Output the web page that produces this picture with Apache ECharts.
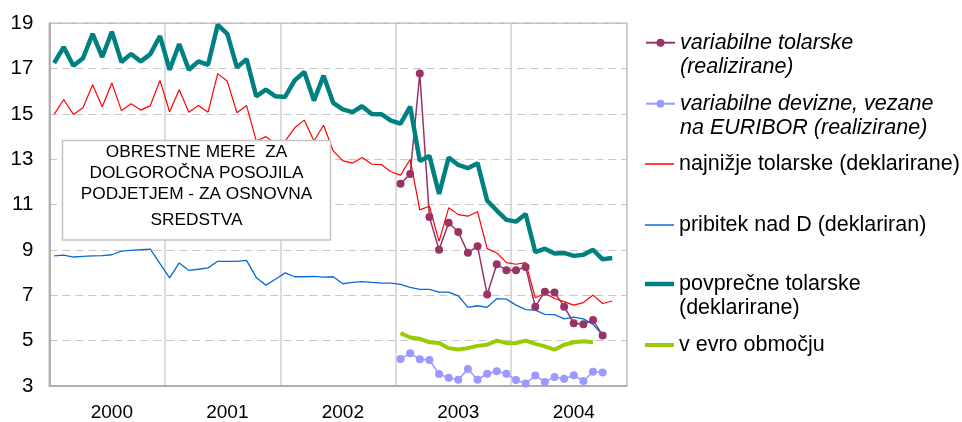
<!DOCTYPE html>
<html>
<head>
<meta charset="utf-8">
<script src="https://cdn.jsdelivr.net/npm/echarts@6/dist/echarts.min.js"></script>
<style>
html,body{margin:0;padding:0;background:#fff;}
#c{width:962px;height:422px;}
</style>
</head>
<body>
<div id="c"></div>
<script>
// ---- data ----
var years = ['2000', '2001', '2002', '2003', '2004'];
var months = ['01','02','03','04','05','06','07','08','09','10','11','12'];

var seriesNames = [
  'variabilne tolarske\n(realizirane)',
  'variabilne devizne, vezane\nna EURIBOR (realizirane)',
  'najnižje tolarske (deklarirane)',
  'pribitek nad D (deklariran)',
  'povprečne tolarske\n(deklarirane)',
  'v evro območju'
];

// variabilne tolarske (realizirane), from Jan 2003
var varTolar = [11.92,12.35,16.78,10.45,9.01,10.2,9.79,8.88,9.16,7.04,8.37,8.11,
                8.11,8.25,6.5,7.16,7.13,6.5,5.77,5.72,5.91,5.23];
// variabilne devizne, vezane na EURIBOR (realizirane), from Jan 2003
var varDev = [4.19,4.44,4.18,4.15,3.53,3.36,3.28,3.75,3.28,3.54,3.65,3.54,
              3.27,3.11,3.46,3.18,3.4,3.32,3.47,3.22,3.63,3.6];
// najnižje tolarske (deklarirane), from Jan 2000
var najnizje = [14.98,15.64,14.98,15.27,16.29,15.32,16.37,15.15,15.45,15.17,15.37,16.48,
                15.1,16.07,15.08,15.37,15.08,16.78,16.44,15.05,15.37,13.81,14.0,13.7,
                13.8,14.39,14.73,13.81,14.5,13.37,12.93,12.83,13.08,12.79,12.77,12.45,
                12.3,13.0,10.77,10.93,9.38,10.86,10.56,10.49,10.69,9.06,8.87,8.44,
                8.37,8.44,6.89,7.08,6.86,6.72,6.57,6.68,7.01,6.64,6.75];
// pribitek nad D (deklariran), from Jan 2000
var pribitek = [8.74,8.77,8.69,8.72,8.74,8.75,8.79,8.95,8.98,9.01,9.04,8.4,
                7.77,8.43,8.1,8.15,8.21,8.5,8.5,8.5,8.54,7.79,7.45,7.71,
                7.99,7.82,7.82,7.84,7.8,7.82,7.51,7.57,7.6,7.57,7.54,7.54,
                7.48,7.35,7.26,7.26,7.14,7.14,6.98,6.47,6.54,6.47,6.85,6.83,
                6.57,6.37,6.35,6.16,6.15,5.96,6.04,5.96,5.72,5.25];
// povprečne tolarske (deklarirane), from Jan 2000
var povprecne = [17.25,17.95,17.13,17.46,18.53,17.51,18.63,17.29,17.65,17.32,17.64,18.44,
                 16.95,18.09,16.95,17.32,17.17,18.93,18.53,17.05,17.42,15.78,16.07,15.78,
                 15.75,16.48,16.85,15.59,16.69,15.49,15.2,15.08,15.34,15.0,14.99,14.71,
                 14.57,15.32,12.93,13.15,11.47,13.08,12.75,12.61,12.83,11.18,10.74,10.33,
                 10.25,10.59,8.91,9.06,8.84,8.87,8.74,8.79,9.01,8.59,8.65];
// v evro območju, from Jan 2003
var evro = [5.33,5.14,5.08,4.93,4.9,4.67,4.61,4.67,4.77,4.82,5.0,4.89,
            4.9,5.0,4.86,4.75,4.6,4.82,4.93,4.97,4.93];

var yTicks = {min: 3, max: 19, step: 2};

// ---- build ----
var categories = [];
years.forEach(function (y) { months.forEach(function (m) { categories.push(m + '/' + y); }); });
var startIdx2003 = years.indexOf('2003') * 12;
function fromIndex(arr, start) {
  var out = [];
  for (var i = 0; i < categories.length; i++) {
    var k = i - start;
    out.push(k >= 0 && k < arr.length ? arr[k] : null);
  }
  return out;
}

var FONT = 'Liberation Sans, Arial, sans-serif';
var chart = echarts.init(document.getElementById('c'), null, {renderer: 'canvas'});

// symbolCenterY: y of legend symbol; lineIcon: use plain bar of given thickness
function lg(name, symbolCenterY, italic, twoLine, barThickness) {
  var item = {name: name};
  var h = 10;
  if (barThickness) { item.icon = 'rect'; h = barThickness; }
  return {
    data: [item], left: 645, top: symbolCenterY - (twoLine ? 36 : 12), padding: 0,
    itemWidth: 29, itemHeight: h, selectedMode: false,
    formatter: function (n) { return twoLine ? ' \n' + n : n; },
    textStyle: {
      fontFamily: FONT, fontSize: 21.5, color: '#000',
      fontStyle: italic ? 'italic' : 'normal', lineHeight: 24
    }
  };
}

var option = {
  animation: false,
  backgroundColor: '#fff',
  grid: {left: 49.3, right: 335.3, top: 23.3, bottom: 35.3, show: true,
         borderColor: '#b8b8b8', borderWidth: 1.5, backgroundColor: 'transparent'},
  legend: [
    lg(seriesNames[0], 42.7, true, true, 0),
    lg(seriesNames[1], 103.7, true, true, 0),
    lg(seriesNames[2], 164, false, false, 1.5),
    lg(seriesNames[3], 225, false, false, 1.5),
    lg(seriesNames[4], 284, false, true, 4.5),
    lg(seriesNames[5], 345, false, false, 4)
  ],
  xAxis: {
    type: 'category', data: categories, boundaryGap: true,
    axisLine: {show: true, lineStyle: {color: '#a6a6a6', width: 1.5}},
    axisTick: {show: false},
    axisLabel: {
      interval: function (i) { return i % 12 === 6; },
      formatter: function (v) { return v.split('/')[1]; },
      fontFamily: FONT, fontSize: 19, color: '#000', margin: 17
    },
    splitLine: {show: true, interval: function (i) { return i % 12 === 0; },
                lineStyle: {color: '#cfcfcf', width: 1.5, type: 'solid'}}
  },
  yAxis: {
    type: 'value', min: yTicks.min, max: yTicks.max, interval: yTicks.step,
    axisLine: {show: true, lineStyle: {color: '#a6a6a6', width: 1.5}},
    axisTick: {show: false},
    axisLabel: {fontFamily: FONT, fontSize: 20.5, color: '#000', margin: 16},
    splitLine: {show: true, lineStyle: {color: '#c8c8c8', width: 1, type: [8, 5]}}
  },
  series: [
    {name: seriesNames[0], type: 'line', data: fromIndex(varTolar, startIdx2003),
     symbol: 'circle', symbolSize: 8, showSymbol: true, showAllSymbol: true,
     lineStyle: {color: '#993366', width: 1.5}, itemStyle: {color: '#993366'}},
    {name: seriesNames[1], type: 'line', data: fromIndex(varDev, startIdx2003),
     symbol: 'circle', symbolSize: 8, showSymbol: true, showAllSymbol: true,
     lineStyle: {color: '#9999ff', width: 1.5}, itemStyle: {color: '#9999ff'}},
    {name: seriesNames[2], type: 'line', data: fromIndex(najnizje, 0),
     symbol: 'none', lineStyle: {color: '#ff0000', width: 1.2}, itemStyle: {color: '#ff0000'}},
    {name: seriesNames[3], type: 'line', data: fromIndex(pribitek, 0),
     symbol: 'none', lineStyle: {color: '#0a6ad6', width: 1.3}, itemStyle: {color: '#0a6ad6'}},
    {name: seriesNames[4], type: 'line', data: fromIndex(povprecne, 0),
     symbol: 'none', lineStyle: {color: '#008080', width: 4.5}, itemStyle: {color: '#008080'}},
    {name: seriesNames[5], type: 'line', data: fromIndex(evro, startIdx2003),
     symbol: 'none', lineStyle: {color: '#99cc00', width: 4}, itemStyle: {color: '#99cc00'}}
  ],
  graphic: [
    {type: 'rect', z: 100, shape: {x: 62.5, y: 140.5, width: 268, height: 99.5},
     style: {fill: '#fff', stroke: '#c4c4c4', lineWidth: 1.5}},
    {type: 'text', z: 101, x: 196.5, y: 152, style: {text: 'OBRESTNE MERE  ZA', font: '17.3px ' + FONT, fill: '#000', align: 'center', verticalAlign: 'middle'}},
    {type: 'text', z: 101, x: 196.5, y: 173, style: {text: 'DOLGOROČNA POSOJILA', font: '17.3px ' + FONT, fill: '#000', align: 'center', verticalAlign: 'middle'}},
    {type: 'text', z: 101, x: 196.5, y: 194, style: {text: 'PODJETJEM - ZA OSNOVNA', font: '17.3px ' + FONT, fill: '#000', align: 'center', verticalAlign: 'middle'}},
    {type: 'text', z: 101, x: 196.5, y: 220, style: {text: 'SREDSTVA', font: '17.3px ' + FONT, fill: '#000', align: 'center', verticalAlign: 'middle'}}
  ]
};
chart.setOption(option);
</script>
</body>
</html>
